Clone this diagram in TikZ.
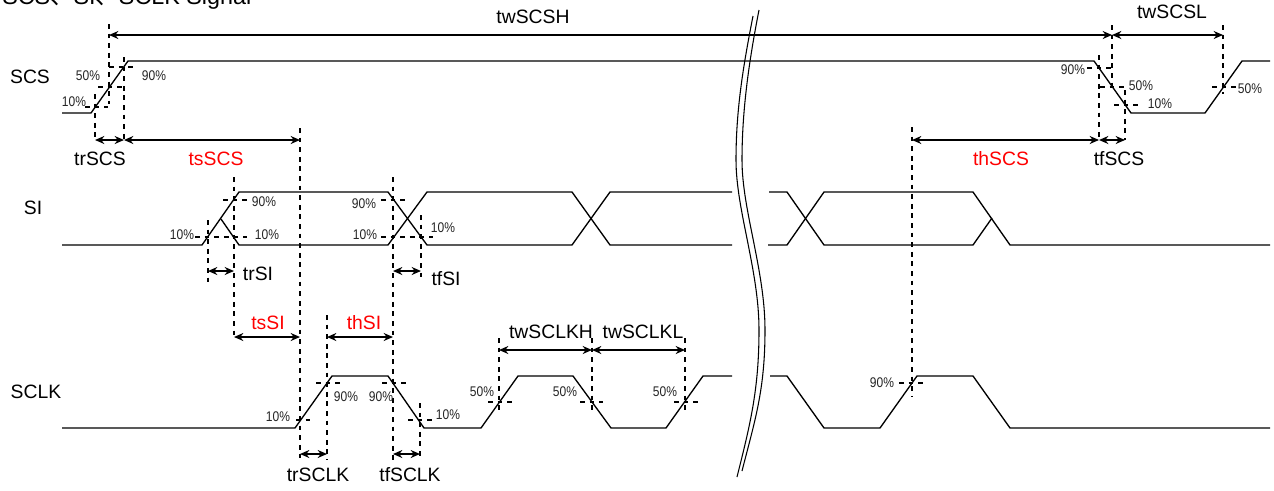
\documentclass[tikz,border=0pt]{standalone}
\usepackage{fontspec}
\setmainfont{Liberation Sans}
\newfontfamily\pctfont[FakeStretch=0.86]{Liberation Sans}
\newfontfamily\cjkfont{Noto Sans CJK JP}
\usetikzlibrary{arrows.meta}
\definecolor{redlabel}{RGB}{255,0,0}
\tikzset{
  x=0.75pt,y=-0.75pt,
  wave/.style={line width=1pt,black,line join=miter},
  guide/.style={line width=0.8pt,black,dash pattern=on 3.6pt off 3.6pt},
  span/.style={line width=1.35pt,black,{Stealth[length=7pt,width=6pt]}-{Stealth[length=7pt,width=6pt]}},
  brk/.style={line width=0.8pt,black},
  lab/.style={inner sep=0pt,font=\fontsize{14.5pt}{16pt}\selectfont},
  pct/.style={inner sep=0pt,font=\pctfont\fontsize{10.5pt}{12pt}\selectfont,text=black!85},
  redlab/.style={lab,text=redlabel},
}
\begin{document}
\begin{tikzpicture}
\useasboundingbox (0,0) rectangle (1274,490);
\fill[white] (0,0) rectangle (1274,490);
% title
\node[inner sep=0pt,anchor=base west,font=\fontsize{17.5pt}{20pt}\selectfont] (title) at (2,4) {SCS{\cjkfont 、}SI{\cjkfont 、}SCLK Signal};
% waveforms
\draw[wave] (62,113) -- (91,113) -- (128,61) -- (1094,61) -- (1131,113) -- (1205,113) -- (1242,61) -- (1270,61);
% SI
\draw[wave] (62,245) -- (202,245) -- (239,192) -- (388,192) -- (427,245) -- (572,245) -- (610,192) -- (732,192);
\draw[wave] (221,219) -- (239,245) -- (388,245) -- (427,192) -- (572,192) -- (610,245) -- (732,245);
\draw[wave] (769,192) -- (787,192) -- (824,245) -- (973,245) -- (992,218);
\draw[wave] (768,245) -- (787,245) -- (824,192) -- (973,192) -- (1010,245) -- (1270,245);
% SCLK
\draw[wave] (62,428) -- (295,428) -- (332,376) -- (388,376) -- (424,428) -- (481,428) -- (518,376) -- (573,376) -- (611,428) -- (666,428) -- (703,376) -- (732,376);
\draw[wave] (770,376) -- (787,376) -- (824,428) -- (880,428) -- (917,376) -- (973,376) -- (1010,428) -- (1270,428);
% break
\draw[brk] (759,10) .. controls (749,61) and (742,110) .. (742,160) .. controls (742,210) and (765,270) .. (765,330) .. controls (765,390) and (755,420) .. (742,471);
\draw[brk] (753,16) .. controls (743,67) and (736,110) .. (736,160) .. controls (736,210) and (759,270) .. (759,330) .. controls (759,390) and (750,425) .. (737,477);
% vertical guides
\foreach \xx/\ya/\yb in {109/24/104,95/94/140,124/57/140,300/128/458,
  1112/25/90,1223/25/94,1099/55/140,1125/90/140,912/127/397,
  234/177/340,208/220/285,393/177/460,421/215/278,
  327/315/460,420/403/458,499/338/414,592/338/413,685/338/413}
  \draw[guide] (\xx,\ya) -- (\xx,\yb);
% horizontal guides
\foreach \xa/\xb/\yy in {109/135/67,98/123/87,85/108/107,
  1087/1112/68,1100/1126/87,1114/1138/105,1212/1237/87,899/923/383,
  223/247/200,195/247/237,381/405/200,381/433/237,
  316/340/383,382/407/383,296/312/420,408/433/420,
  488/512/402,580/603/402,674/698/402}
  \draw[guide] (\xa,\yy) -- (\xb,\yy);
% spans
\foreach \xa/\xb/\yy in {109/1112/35,1112/1223/35,95/124/140,124/300/140,912/1099/140,1099/1125/140,
  208/234/271,393/421/271,234/300/337,327/393/337,300/327/454,393/420/454,499/592/350,592/685/350}
  \draw[span] (\xa,\yy) -- (\xb,\yy);
% labels
\node[lab] (lscs) at (30,77) {SCS};
\node[lab] (lsi) at (33,208) {SI};
\node[lab] (lsclk) at (36,392) {SCLK};
\node[lab] (ltwh) at (533,17) {twSCSH};
\node[lab] (ltwl) at (1172,12) {twSCSL};
\node[lab] (ltr) at (100,159) {trSCS};
\node[redlab] (lts) at (216,159) {tsSCS};
\node[redlab] (lth) at (1001,159) {thSCS};
\node[lab] (ltf) at (1119,159) {tfSCS};
\node[lab] (ltrsi) at (258,274) {trSI};
\node[lab] (ltfsi) at (446,279) {tfSI};
\node[redlab] (ltssi) at (268,323) {tsSI};
\node[redlab] (lthsi) at (364,323) {thSI};
\node[lab] (lkh) at (551,332) {twSCLKH};
\node[lab] (lkl) at (643,332) {twSCLKL};
\node[lab] (ltrk) at (318,475) {trSCLK};
\node[lab] (ltfk) at (410,475) {tfSCLK};
% percents
\node[pct] (p1) at (88,76) {50\%};
\node[pct] (p2) at (74,102) {10\%};
\node[pct] (p3) at (154,76) {90\%};
\node[pct] (p4) at (1073,70) {90\%};
\node[pct] (p5) at (1141,86) {50\%};
\node[pct] (p6) at (1160,104) {10\%};
\node[pct] (p7) at (1250,89) {50\%};
\node[pct] (p8) at (182,235) {10\%};
\node[pct] (p9) at (264,202) {90\%};
\node[pct] (p10) at (267,235) {10\%};
\node[pct] (p11) at (364,204) {90\%};
\node[pct] (p12) at (365,235) {10\%};
\node[pct] (p13) at (443,228) {10\%};
\node[pct] (p14) at (278,417) {10\%};
\node[pct] (p15) at (346,397) {90\%};
\node[pct] (p16) at (381,397) {90\%};
\node[pct] (p17) at (448,415) {10\%};
\node[pct] (p18) at (482,392) {50\%};
\node[pct] (p19) at (565,392) {50\%};
\node[pct] (p20) at (665,392) {50\%};
\node[pct] (p21) at (882,383) {90\%};
\end{tikzpicture}
\end{document}
